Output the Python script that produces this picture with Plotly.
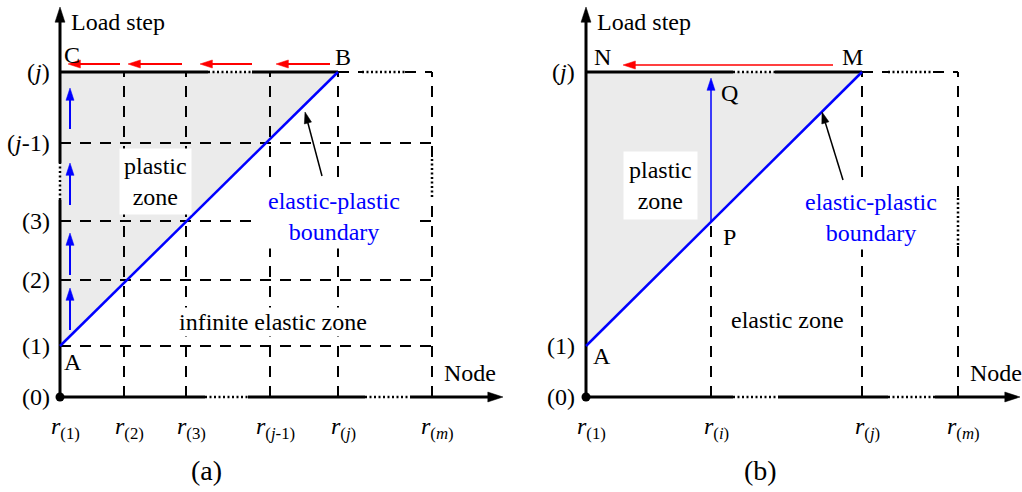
import plotly.graph_objects as go

FONT = "Liberation Serif, Times New Roman, serif"
BLACK = "#000000"
BLUE = "#0000ff"
RED = "#ff0000"
GRAY = "#ebebeb"

# ---------------- panel (a) data ----------------
a_node_labels = ["<i>r</i><sub>(1)</sub>", "<i>r</i><sub>(2)</sub>", "<i>r</i><sub>(3)</sub>",
                 "<i>r</i><sub>(<i>j</i>-1)</sub>", "<i>r</i><sub>(<i>j</i>)</sub>",
                 "<i>r</i><sub>(<i>m</i>)</sub>"]
a_node_x = [0, 64, 126, 210, 278, 372]
a_step_labels = ["(0)", "(1)", "(2)", "(3)", "(<i>j</i>-1)", "(<i>j</i>)"]
a_step_y = [0, 51, 117, 176, 254, 325]
a_axis_end = [443, 390]
a_xaxis_dots = [(145, 188), (305, 350)]
a_yaxis_dots = [(197, 234)]
a_top_dots = [(148, 192), (302, 345)]
a_rm_dots = [(200, 240)]
a_up_x = 10
a_up_from = [67, 122, 192, 268]
a_up_to = [109, 164, 234, 309]
a_left_y = 333
a_left_from = [60, 122, 192, 270]
a_left_to = [8, 68, 140, 216]
a_pointer = [(262, 221), (245, 285)]

# ---------------- panel (b) data ----------------
b_node_labels = ["<i>r</i><sub>(1)</sub>", "<i>r</i><sub>(<i>i</i>)</sub>",
                 "<i>r</i><sub>(<i>j</i>)</sub>", "<i>r</i><sub>(<i>m</i>)</sub>"]
b_node_x = [0, 125, 276, 372]
b_step_labels = ["(0)", "(1)", "(<i>j</i>)"]
b_step_y = [0, 51, 325]
b_axis_end = [434, 390]
b_xaxis_dots = [(147, 192), (302, 349)]
b_top_dots = [(147, 189), (302, 347)]
b_rm_dots = [(152, 200)]
b_left_y = 332
b_left_from = 247
b_left_to = 37
b_up_to = 319
b_pointer = [(257, 217), (236, 285)]

traces = []
annotations = []

DASH = "11px,9px"
DOT = "2px,2.5px"


def ref(p):
    return ("x", "y") if p == "a" else ("x2", "y2")


def line(p, xs, ys, color=BLACK, width=2, dash="solid"):
    xr, yr = ref(p)
    traces.append(go.Scatter(x=xs, y=ys, xaxis=xr, yaxis=yr, mode="lines", opacity=1,
                             line=dict(color=color, width=width, dash=dash),
                             hoverinfo="skip", showlegend=False))


def arrow(p, x0, y0, x1, y1, color, width, size):
    xr, yr = ref(p)
    traces.append(go.Scatter(x=[x0, x1], y=[y0, y1], xaxis=xr, yaxis=yr,
                             mode="lines+markers", opacity=1,
                             line=dict(color=color, width=width),
                             marker=dict(symbol="arrow", size=[0, size], angleref="previous",
                                         color=color, opacity=1,
                                         line=dict(width=0.5, color=color)),
                             hoverinfo="skip", showlegend=False))


def broken(p, p0, p1, dots, width=2, dash="solid"):
    horiz = p0[1] == p1[1]
    a0 = p0[0] if horiz else p0[1]
    a1 = p1[0] if horiz else p1[1]
    pieces = []
    cur = a0
    for d0, d1 in sorted(dots):
        if a0 < d0 < a1:
            pieces.append((cur, d0, dash, width))
            pieces.append((d0, min(d1, a1), DOT, 2.5))
            cur = min(d1, a1)
    pieces.append((cur, a1, dash, width))
    for s0, s1, ds, w in pieces:
        if s1 <= s0:
            continue
        if horiz:
            line(p, [s0, s1], [p0[1], p0[1]], width=w, dash=ds)
        else:
            line(p, [p0[0], p0[0]], [s0, s1], width=w, dash=ds)


def text(p, t, x, y, size=24, color=BLACK, **kw):
    xr, yr = ref(p)
    annotations.append(dict(text=t, x=x, y=y, xref=xr, yref=yr, showarrow=False,
                            font=dict(family=FONT, size=size, color=color), **kw))


def boundary_y(x, xs, ys):
    return ys[0] + (x - xs[0]) * (ys[1] - ys[0]) / (xs[1] - xs[0])


# ================= panel (a) =================
ax_b = [a_node_x[0], a_node_x[4]]
ay_b = [a_step_y[1], a_step_y[5]]
traces.append(go.Scatter(x=[ax_b[0], ax_b[1], ax_b[0], ax_b[0]], y=[ay_b[0], ay_b[1], ay_b[1], ay_b[0]],
                         xaxis="x", yaxis="y", mode="lines", fill="toself", fillcolor=GRAY,
                         line=dict(width=0), hoverinfo="skip", showlegend=False))
for yv in a_step_y[1:5]:
    line("a", [0, a_node_x[5]], [yv, yv], dash=DASH)
for xv in a_node_x[1:5]:
    line("a", [xv, xv], [0, a_step_y[5]], dash=DASH)
broken("a", (a_node_x[5], 0), (a_node_x[5], a_step_y[5]), a_rm_dots, dash=DASH)
broken("a", (0, a_step_y[5]), (a_node_x[4], a_step_y[5]), a_top_dots, width=3)
broken("a", (a_node_x[4], a_step_y[5]), (a_node_x[5], a_step_y[5]), a_top_dots, dash=DASH)
broken("a", (0, 0), (a_axis_end[0] - 20, 0), a_xaxis_dots, width=3)
arrow("a", a_axis_end[0] - 20, 0, a_axis_end[0], 0, BLACK, 3, 16)
broken("a", (0, 0), (0, a_axis_end[1] - 20), a_yaxis_dots, width=3)
arrow("a", 0, a_axis_end[1] - 20, 0, a_axis_end[1], BLACK, 3, 16)
line("a", ax_b, ay_b, color=BLUE, width=2.5)
for f, t in zip(a_up_from, a_up_to):
    arrow("a", a_up_x, f, a_up_x, t, BLUE, 2, 13)
for f, t in zip(a_left_from, a_left_to):
    arrow("a", f, a_left_y, t, a_left_y, RED, 2, 13)
arrow("a", a_pointer[0][0], a_pointer[0][1], a_pointer[1][0], a_pointer[1][1], BLACK, 1.5, 12)
traces.append(go.Scatter(x=[0], y=[0], xaxis="x", yaxis="y", mode="markers",
                         marker=dict(color=BLACK, size=9), hoverinfo="skip", showlegend=False))

for lab, yv in zip(a_step_labels, a_step_y):
    text("a", lab, -8, yv, xanchor="right")
for lab, xv in zip(a_node_labels, a_node_x):
    text("a", lab, xv, -31, xshift=5)
text("a", "Load step", 9, a_axis_end[1] - 15, xanchor="left")
text("a", "Node", a_axis_end[0] - 33, 24)
text("a", "C", 0, a_step_y[5], xshift=12, yshift=17)
text("a", "B", a_node_x[4], a_step_y[5], xshift=5, yshift=15)
text("a", "A", 0, a_step_y[1], xshift=13, yshift=-16)
text("a", "plastic<br>zone", 95, 216, bgcolor="white", borderpad=4)
text("a", "&nbsp;&nbsp;elastic-plastic&nbsp;&nbsp;<br>boundary", 274, 181, color=BLUE,
     bgcolor="white", borderpad=3)
text("a", "infinite elastic zone", 213, 75, bgcolor="white", borderpad=1)
text("a", "(a)", 146, -73, size=28)

# ================= panel (b) =================
bx_b = [b_node_x[0], b_node_x[2]]
by_b = [b_step_y[1], b_step_y[2]]
p_y = boundary_y(b_node_x[1], bx_b, by_b)
traces.append(go.Scatter(x=[bx_b[0], bx_b[1], bx_b[0], bx_b[0]], y=[by_b[0], by_b[1], by_b[1], by_b[0]],
                         xaxis="x2", yaxis="y2", mode="lines", fill="toself", fillcolor=GRAY,
                         line=dict(width=0), hoverinfo="skip", showlegend=False))
line("b", [b_node_x[1], b_node_x[1]], [0, p_y], dash=DASH)
line("b", [b_node_x[2], b_node_x[2]], [0, b_step_y[2]], dash=DASH)
broken("b", (b_node_x[3], 0), (b_node_x[3], b_step_y[2]), b_rm_dots, dash=DASH)
broken("b", (0, b_step_y[2]), (b_node_x[2], b_step_y[2]), b_top_dots, width=3)
broken("b", (b_node_x[2], b_step_y[2]), (b_node_x[3], b_step_y[2]), b_top_dots, dash=DASH)
broken("b", (0, 0), (b_axis_end[0] - 20, 0), b_xaxis_dots, width=3)
arrow("b", b_axis_end[0] - 20, 0, b_axis_end[0], 0, BLACK, 3, 16)
line("b", [0, 0], [0, b_axis_end[1] - 20], width=3)
arrow("b", 0, b_axis_end[1] - 20, 0, b_axis_end[1], BLACK, 3, 16)
line("b", bx_b, by_b, color=BLUE, width=2.5)
arrow("b", b_node_x[1], p_y, b_node_x[1], b_up_to, BLUE, 1.5, 13)
arrow("b", b_left_from, b_left_y, b_left_to, b_left_y, RED, 1.5, 13)
arrow("b", b_pointer[0][0], b_pointer[0][1], b_pointer[1][0], b_pointer[1][1], BLACK, 1.5, 12)
traces.append(go.Scatter(x=[0], y=[0], xaxis="x2", yaxis="y2", mode="markers",
                         marker=dict(color=BLACK, size=9), hoverinfo="skip", showlegend=False))

for lab, yv in zip(b_step_labels, b_step_y):
    text("b", lab, -9, yv, xanchor="right")
for lab, xv in zip(b_node_labels, b_node_x):
    text("b", lab, xv, -31, xshift=5)
text("b", "Load step", 9, b_axis_end[1] - 15, xanchor="left")
text("b", "Node", b_axis_end[0] - 24, 24)
text("b", "N", 0, b_step_y[2], xshift=16, yshift=15)
text("b", "M", b_node_x[2], b_step_y[2], xshift=-10, yshift=15)
text("b", "A", 0, b_step_y[1], xshift=16, yshift=-10)
text("b", "P", b_node_x[1], p_y, xshift=18, yshift=-15)
text("b", "Q", b_node_x[1], b_step_y[2], xshift=18, yshift=-21)
text("b", "plastic<br>zone", 74, 212, bgcolor="white", borderpad=5)
text("b", "elastic-plastic<br>boundary", 285, 180, color=BLUE, bgcolor="white", borderpad=3)
text("b", "elastic zone", 201, 77)
text("b", "(b)", 174, -73, size=28)

fig = go.Figure(data=traces)
fig.update_layout(
    width=1022, height=492, margin=dict(l=0, r=0, t=0, b=0),
    paper_bgcolor="white", plot_bgcolor="white", showlegend=False, hovermode=False,
    xaxis=dict(domain=[0, 0.5], range=[-60, 451], visible=False, fixedrange=True),
    yaxis=dict(domain=[0, 1], range=[-95, 397], visible=False, fixedrange=True),
    xaxis2=dict(domain=[0.5, 1], range=[-75, 436], visible=False, fixedrange=True, anchor="y2"),
    yaxis2=dict(domain=[0, 1], range=[-95, 397], visible=False, fixedrange=True, anchor="x2"),
    annotations=annotations,
)
fig.write_html("out.html")
